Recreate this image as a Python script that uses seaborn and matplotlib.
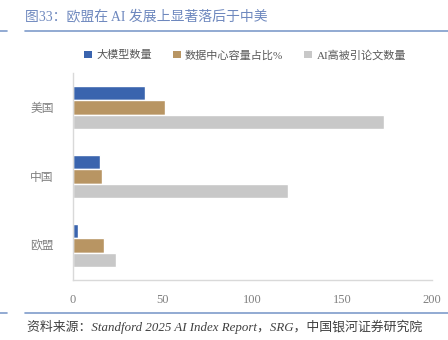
import matplotlib
matplotlib.use("Agg")
import matplotlib.pyplot as plt
import seaborn as sns
import pandas as pd
from matplotlib.lines import Line2D
from matplotlib.patches import Patch

categories = ["美国", "中国", "欧盟"]
series_names = ["大模型数量", "数据中心容量占比%", "AI高被引论文数量"]
models = [40, 15, 3]
dc_share = [51, 16, 17]
papers = [173, 120, 24]
xticks = [0, 50, 100, 150, 200]
colors = ["#3A64AE", "#B89563", "#C8C8C8"]

rows = []
for s, vals in zip(series_names, [models, dc_share, papers]):
    for c, v in zip(categories, vals):
        rows.append({"国家": c, "系列": s, "值": v})
df = pd.DataFrame(rows)

sns.set_theme(style="white")
plt.rcParams['font.family'] = ['Liberation Serif', 'Noto Sans CJK SC', 'DejaVu Sans']

fig = plt.figure(figsize=(4.48, 3.40), dpi=100)
ax = fig.add_axes([73/448, 1-280/340, (432-73)/448, (280-73)/340])

sns.barplot(data=df, y="国家", x="值", hue="系列", order=categories,
            hue_order=series_names, palette=colors, orient="h",
            width=0.63, ax=ax, legend=False, saturation=1)

ax.set_xlim(0, 200)
ax.set_ylim(2.5, -0.5)
ax.set_xticks(xticks)
ax.set_xticklabels([str(t) for t in xticks])
ax.set_xlabel("")
ax.set_ylabel("")
ax.tick_params(axis='x', colors="#808080", labelsize=9, length=0, pad=10)
ax.tick_params(axis='y', colors="#808080", labelsize=8.5, length=0, pad=14)
for sp in ["top", "right"]:
    ax.spines[sp].set_visible(False)
for sp in ["left", "bottom"]:
    ax.spines[sp].set_color("#D9D9D9")
    ax.spines[sp].set_linewidth(1)

handles = [Patch(facecolor=c, edgecolor='none') for c in colors]
fig.legend(handles, series_names, loc="center", bbox_to_anchor=(245/448, 1-55/340),
           ncol=3, frameon=False, fontsize=8, handlelength=0.7, handleheight=0.7,
           handletextpad=0.4, columnspacing=1.9, labelcolor="#595959")

title_color = "#6E88BE"
fig.text(25/448, 1-16/340, "图33：欧盟在 AI 发展上显著落后于中美", fontsize=10,
         color=title_color, va="center", ha="left")
line_color = "#7F9CCB"
fig.add_artist(Line2D([0, 7/448], [1-31/340]*2, color=line_color, lw=1.2))
fig.add_artist(Line2D([25/448, 1], [1-31/340]*2, color=line_color, lw=1.2))
fig.add_artist(Line2D([0, 7/448], [1-313/340]*2, color=line_color, lw=1.2))
fig.add_artist(Line2D([25/448, 1], [1-313/340]*2, color=line_color, lw=1.2))
fig.text(27/448, 1-327/340, "资料来源：Standford 2025 AI Index Report，SRG，中国银河证券研究院",
         fontsize=9.3, color="#404040", style="italic", va="center", ha="left")

fig.savefig("out.png", dpi=100)
